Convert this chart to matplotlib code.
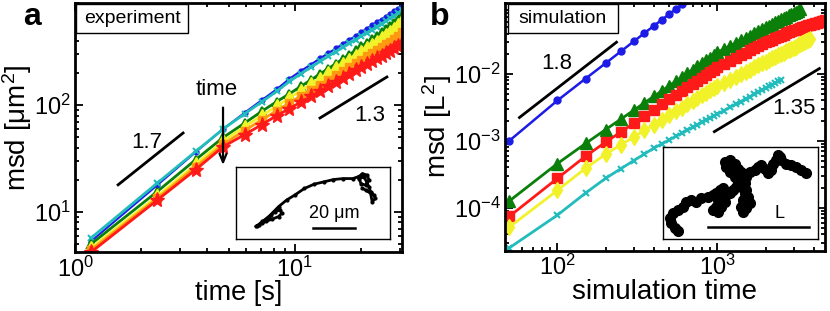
import numpy as np
import matplotlib
matplotlib.use('Agg')
import matplotlib.pyplot as plt
from matplotlib.patches import Rectangle
from matplotlib.ticker import NullFormatter

plt.rcParams['font.family'] = ['Liberation Sans', 'DejaVu Sans']
plt.rcParams['mathtext.fontset'] = 'custom'
plt.rcParams['mathtext.rm'] = 'Liberation Sans'
plt.rcParams['mathtext.it'] = 'Liberation Sans'
plt.rcParams['mathtext.default'] = 'regular'

# ---- panel a: experiment (26 frames, 1.18 s apart)
t_exp = np.arange(1, 27) * 1.18
msd_blue = [5.3, 17.8, 36.5, 60, 85, 112, 141, 177, 209, 240, 274, 307, 340,
            375, 410, 446, 485, 522, 560, 600, 635, 676, 718, 755, 795, 845]
msd_cyan = [5.7, 18.6, 37, 60, 83, 108, 135, 167, 197, 226, 257, 287, 318,
            348, 380, 412, 445, 478, 510, 545, 580, 615, 650, 690, 730, 775]
msd_green = [5.0, 15.5, 31, 50, 68, 88, 108, 128, 150, 172, 196, 220, 245,
             271, 298, 326, 355, 385, 415, 447, 480, 515, 552, 590, 635, 690]
msd_yellow = [4.6, 14, 28, 46, 63, 80, 98, 117, 137, 157, 178, 200, 222,
              245, 268, 292, 317, 342, 368, 395, 423, 452, 482, 515, 560, 620]
msd_orange = [4.4, 13.4, 26.5, 43, 58, 73, 89, 105, 122, 139, 156, 174, 192,
              210, 229, 248, 268, 288, 308, 328, 350, 372, 394, 418, 445, 480]
msd_red = [4.2, 12.9, 25, 41, 53, 66, 80, 93, 107, 121, 135, 150, 165,
           180, 196, 212, 228, 244, 260, 276, 292, 308, 325, 342, 360, 380]

# inset a trajectory (inset pixel units)
traj_a_x = [80, 100, 120, 140, 155, 160, 150, 130, 110, 90, 82, 100, 125, 150,
            175, 200, 230, 260, 290, 320, 350, 380, 395, 405, 410, 425, 430, 420,
            405, 400, 415, 430, 435, 445, 450, 440, 435, 420, 410]
traj_a_y = [200, 185, 170, 155, 150, 160, 170, 178, 185, 195, 200, 190, 165, 140,
            120, 105, 85, 72, 65, 58, 55, 55, 50, 45, 40, 45, 60, 75,
            70, 55, 50, 80, 95, 105, 115, 125, 100, 90, 85]

# ---- panel b: simulation
t_sim = list(range(50, 1001, 50)) + list(range(1100, 4701, 100))
sim_blue = [1.0e-3, 4.0e-3, 8.5e-3, 1.44e-2, 2.18e-2, 3.05e-2, 4.07e-2,
            5.2e-2, 6.44e-2, 7.8e-2, 9.3e-2, 0.109, 0.126]
sim_green = [1.26e-4, 4.57e-4, 9.12e-4, 1.47e-3, 2.12e-3, 2.86e-3, 3.69e-3,
             4.60e-3, 5.58e-3, 6.65e-3, 7.78e-3, 8.97e-3, 1.026e-2, 1.159e-2,
             1.297e-2, 1.445e-2, 1.592e-2, 1.754e-2, 1.919e-2, 2.09e-2,
             2.35e-2, 2.62e-2, 2.89e-2, 3.17e-2, 3.45e-2, 3.74e-2, 4.03e-2,
             4.33e-2, 4.63e-2, 4.93e-2, 5.24e-2, 5.55e-2, 5.87e-2, 6.18e-2,
             6.52e-2, 6.84e-2, 7.14e-2, 7.48e-2, 7.82e-2, 8.15e-2, 8.49e-2,
             8.83e-2, 9.20e-2]
sim_red = [7.41e-5, 2.75e-4, 5.89e-4, 9.55e-4, 1.36e-3, 1.83e-3, 2.34e-3,
           2.90e-3, 3.49e-3, 4.14e-3, 4.81e-3, 5.53e-3, 6.30e-3, 7.08e-3,
           7.91e-3, 8.77e-3, 9.66e-3, 1.059e-2, 1.156e-2, 1.259e-2,
           1.413e-2, 1.574e-2, 1.738e-2, 1.905e-2, 2.07e-2, 2.24e-2, 2.42e-2,
           2.59e-2, 2.77e-2, 2.95e-2, 3.10e-2, 3.25e-2, 3.40e-2, 3.56e-2,
           3.71e-2, 3.86e-2, 4.01e-2, 4.17e-2, 4.32e-2, 4.47e-2, 4.58e-2,
           4.70e-2, 4.83e-2, 4.93e-2, 5.06e-2, 5.18e-2, 5.28e-2, 5.41e-2,
           5.52e-2, 5.62e-2, 5.73e-2, 5.82e-2, 5.92e-2, 6.01e-2, 6.11e-2,
           6.21e-2, 6.31e-2]
sim_yellow = [5.13e-5, 1.82e-4, 3.89e-4, 6.31e-4, 8.75e-4, 1.14e-3, 1.43e-3,
              1.73e-3, 2.06e-3, 2.40e-3, 2.76e-3, 3.13e-3, 3.53e-3, 3.93e-3,
              4.35e-3, 4.78e-3, 5.21e-3, 5.66e-3, 6.14e-3, 6.61e-3,
              7.40e-3, 8.22e-3, 9.06e-3, 9.89e-3, 1.074e-2, 1.161e-2,
              1.247e-2, 1.337e-2, 1.429e-2, 1.517e-2, 1.607e-2, 1.698e-2,
              1.795e-2, 1.888e-2, 1.986e-2, 2.08e-2, 2.17e-2, 2.27e-2,
              2.37e-2, 2.47e-2, 2.56e-2, 2.67e-2, 2.77e-2, 2.86e-2, 2.97e-2,
              3.07e-2, 3.18e-2, 3.28e-2]
sim_cyan = [2.51e-5, 7.76e-5, 1.66e-4, 2.75e-4, 3.85e-4, 5.06e-4, 6.37e-4,
            7.76e-4, 9.02e-4, 1.03e-3, 1.17e-3, 1.30e-3, 1.45e-3, 1.59e-3,
            1.73e-3, 1.88e-3, 2.04e-3, 2.19e-3, 2.35e-3, 2.51e-3,
            2.83e-3, 3.17e-3, 3.51e-3, 3.85e-3, 4.22e-3, 4.58e-3, 4.94e-3,
            5.32e-3, 5.71e-3, 6.10e-3, 6.49e-3, 6.87e-3, 7.29e-3, 7.69e-3,
            8.11e-3]

# inset b trajectory (inset pixel units)
traj_b_x = [70, 60, 50, 45, 55, 70, 85, 95, 110, 125, 140, 160, 175, 185, 195,
            205, 200, 190, 185, 175, 190, 200, 210, 215, 225, 235, 245, 250,
            240, 225, 215, 210, 225, 240, 250, 260, 265, 260, 265, 270, 265,
            260, 265, 275, 285, 280, 275, 270, 275, 285, 300, 310, 320, 330,
            340, 350, 355, 365, 375, 370, 380, 395, 410, 425, 440, 455]
traj_b_y = [275, 265, 250, 235, 220, 210, 200, 185, 180, 185, 175, 170, 165,
            160, 150, 145, 165, 180, 200, 210, 215, 200, 185, 165, 160, 150,
            140, 125, 110, 95, 80, 65, 60, 70, 85, 95, 110, 130, 145, 160,
            180, 200, 215, 205, 190, 170, 150, 130, 110, 95, 90, 80, 75, 85,
            100, 90, 70, 60, 50, 45, 60, 70, 75, 80, 90, 100]

C_BLUE = '#1c1ce6'
C_CYAN = '#22bcbc'
C_GREEN = '#0a800a'
C_YELLOW = '#f2f22a'
C_ORANGE = '#ff9a10'
C_RED = '#ff1a1a'

fig = plt.figure(figsize=(8.3, 3.11), dpi=100)


def style_axes(ax):
    for s in ax.spines.values():
        s.set_linewidth(2.0)
    ax.tick_params(which='both', direction='in', top=True, right=True,
                   labelsize=17, width=1.3, pad=3)
    ax.tick_params(which='major', length=6)
    ax.tick_params(which='minor', length=3)
    ax.xaxis.set_minor_formatter(NullFormatter())
    ax.yaxis.set_minor_formatter(NullFormatter())


# ---------------- panel a
ax1 = fig.add_axes([0.0904, 0.1887, 0.394, 0.8006])
ax1.set_xscale('log')
ax1.set_yscale('log')
ax1.plot(t_exp, msd_blue, '-o', color=C_BLUE, lw=1.5, ms=3.5)
ax1.plot(t_exp, msd_cyan, '-x', color=C_CYAN, lw=2, ms=5, mew=1.5)
ax1.plot(t_exp, msd_green, '-^', color=C_GREEN, lw=2, ms=6, mfc='none', mew=1.5)
ax1.plot(t_exp, msd_yellow, '-d', color=C_YELLOW, lw=2, ms=7)
ax1.plot(t_exp, msd_orange, '-s', color=C_ORANGE, lw=2, ms=6)
ax1.plot(t_exp, msd_red, '-*', color=C_RED, lw=2, ms=11)
ax1.set_xlim(1, 30.7)
ax1.set_ylim(4.2, 900)
style_axes(ax1)
ax1.set_xlabel('time [s]', fontsize=19.5, labelpad=-1)
ax1.set_ylabel('msd [μm$^{2}$]', fontsize=20, labelpad=0)

ax1.plot([1.57, 3.1], [18.0, 55], 'k-', lw=2)
ax1.plot([13.0, 26.2], [76, 184], 'k-', lw=2)
ax1.text(2.13, 44.5, '1.7', fontsize=16, ha='center', va='center')
ax1.text(21.9, 81, '1.3', fontsize=16, ha='center', va='center')
ax1.text(4.4, 139, 'time', fontsize=16, ha='center', va='center')
ax1.annotate('', xy=(4.71, 26), xytext=(4.71, 101),
             arrowprops=dict(arrowstyle='->,head_length=0.6,head_width=0.25',
                             lw=1.6, color='black'))
ax1.add_patch(Rectangle((0.003, 0.881), 0.343, 0.116, transform=ax1.transAxes,
                        facecolor='white', edgecolor='black', lw=1, zorder=5))
ax1.text(0.175, 0.938, 'experiment', transform=ax1.transAxes, fontsize=14,
         ha='center', va='center', zorder=6)
fig.text(0.038, 0.945, 'a', fontsize=23, fontweight='bold', ha='center', va='center')

ins1 = fig.add_axes([0.2843, 0.2315, 0.1855, 0.2315])
ins1.plot(traj_a_x, traj_a_y, 'k-', lw=2, marker='.', ms=4)
ins1.plot([258, 388], [205, 205], 'k-', lw=1.8)
ins1.text(323, 160, '20 μm', fontsize=13, ha='center', va='center')
ins1.set_xlim(18, 495)
ins1.set_ylim(238, 20)
ins1.set_xticks([])
ins1.set_yticks([])
for s in ins1.spines.values():
    s.set_linewidth(1.0)

# ---------------- panel b
ax2 = fig.add_axes([0.6084, 0.193, 0.3855, 0.797])
ax2.set_xscale('log')
ax2.set_yscale('log')
ax2.plot(t_sim[:len(sim_blue)], sim_blue, '-o', color=C_BLUE, lw=1.8, ms=5)
ax2.plot(t_sim[:len(sim_green)], sim_green, '-^', color=C_GREEN, lw=2, ms=9)
ax2.plot(t_sim[:len(sim_red)], sim_red, '-s', color=C_RED, lw=2, ms=7)
ax2.plot(t_sim[:len(sim_yellow)], sim_yellow, '-d', color=C_YELLOW, lw=2, ms=8)
ax2.plot(t_sim[:len(sim_cyan)], sim_cyan, '-x', color=C_CYAN, lw=2, ms=5, mew=1.5)
ax2.set_xlim(47, 4700)
ax2.set_ylim(2.26e-5, 0.114)
ax2.set_yticks([1e-4, 1e-3, 1e-2])
style_axes(ax2)
ax2.set_xlabel('simulation time', fontsize=20, labelpad=-1)
ax2.set_ylabel('msd [L$^{2}$]', fontsize=20, labelpad=0)

ax2.plot([57.9, 234], [2.23e-3, 2.97e-2], 'k-', lw=2)
ax2.plot([957, 4340], [1.37e-3, 1.2e-2], 'k-', lw=2)
ax2.text(98.6, 1.44e-2, '1.8', fontsize=16, ha='center', va='center')
ax2.text(3030, 3.04e-3, '1.35', fontsize=16, ha='center', va='center')
ax2.add_patch(Rectangle((0.009, 0.879), 0.344, 0.117, transform=ax2.transAxes,
                        facecolor='white', edgecolor='black', lw=1, zorder=5))
ax2.text(0.181, 0.937, 'simulation', transform=ax2.transAxes, fontsize=14,
         ha='center', va='center', zorder=6)
fig.text(0.53, 0.945, 'b', fontsize=23, fontweight='bold', ha='center', va='center')

ins2 = fig.add_axes([0.7988, 0.2315, 0.1867, 0.2958])
ins2.plot(traj_b_x, traj_b_y, 'k-', lw=5, marker='o', ms=7)
ins2.plot([160, 462], [262, 262], 'k-', lw=1.8)
ins2.text(375, 222, 'L', fontsize=13, ha='center', va='center')
ins2.set_xlim(25, 490)
ins2.set_ylim(298, 20)
ins2.set_xticks([])
ins2.set_yticks([])
for s in ins2.spines.values():
    s.set_linewidth(1.0)

fig.savefig('out.png', dpi=100)
